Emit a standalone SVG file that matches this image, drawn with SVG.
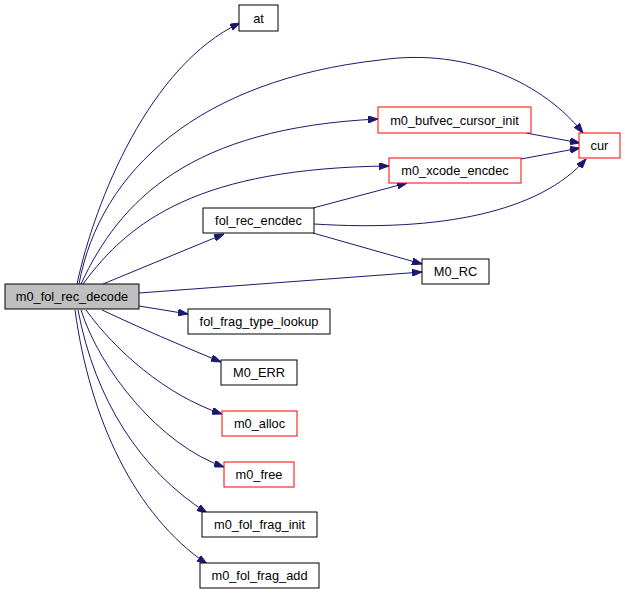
<svg xmlns="http://www.w3.org/2000/svg" width="625" height="595" viewBox="0 0 625 595">
<style>
.n rect{fill:#ffffff;stroke:#000000;stroke-width:1}
.n.r rect{stroke:#ff0000}
.n.m rect{fill:#bfbfbf}
.n text{font-family:"Liberation Sans",Arial,sans-serif;font-size:12.8px;fill:#000000;text-anchor:middle}
.e path{fill:none;stroke:#191970;stroke-width:1;marker-end:url(#ah)}
</style>
<defs>
<marker id="ah" markerUnits="userSpaceOnUse" viewBox="0 0 10 7" refX="10" refY="3.5" markerWidth="10" markerHeight="7" orient="auto">
<path d="M0,0 L10,3.5 L0,7 Z" fill="#191970" stroke="#191970" stroke-width="1"/>
</marker>
</defs>
<rect width="625" height="595" fill="#ffffff"/>
<g id="edges" class="e">
<path d="M77,284 C95,200 150,65 240,23"/>
<path d="M79,284 C100,170 200,80 380,60 C470,47 545,85 583,133"/>
<path d="M81,284 C120,200 190,128 378,119"/>
<path d="M83,284 C130,220 200,168 389,166"/>
<path d="M103,284 L224,234"/>
<path d="M139,293 L422,272"/>
<path d="M139,306 L188,314"/>
<path d="M102,310 C140,328 180,345 221,362"/>
<path d="M86,310 C115,350 165,395 222,414"/>
<path d="M81,310 C100,370 160,445 224,467"/>
<path d="M78,310 C95,400 140,470 207,513"/>
<path d="M75,310 C90,420 135,515 207,564"/>
<path d="M313,208 L407,183"/>
<path d="M314,224 C440,232 540,212 586,159"/>
<path d="M313,233 L422,264"/>
<path d="M526,133 L580,143"/>
<path d="M521,159 L580,148"/>
</g>
<g id="m0_fol_rec_decode" class="n m"><rect x="5" y="284" width="134" height="25"/><text x="72" y="301">m0_fol_rec_decode</text></g>
<g id="at" class="n"><rect x="239" y="5" width="39" height="26"/><text x="258.5" y="22.5">at</text></g>
<g id="m0_bufvec_cursor_init" class="n r"><rect x="378" y="107" width="153" height="26"/><text x="454.5" y="124.5">m0_bufvec_cursor_init</text></g>
<g id="cur" class="n r"><rect x="579" y="133" width="41" height="25"/><text x="599.5" y="150">cur</text></g>
<g id="m0_xcode_encdec" class="n r"><rect x="389" y="158" width="132" height="25"/><text x="455" y="175">m0_xcode_encdec</text></g>
<g id="fol_rec_encdec" class="n"><rect x="203" y="208" width="111" height="25"/><text x="258.5" y="225">fol_rec_encdec</text></g>
<g id="M0_RC" class="n"><rect x="422" y="259" width="67" height="25"/><text x="455.5" y="276">M0_RC</text></g>
<g id="fol_frag_type_lookup" class="n"><rect x="188" y="309" width="142" height="25"/><text x="259" y="326">fol_frag_type_lookup</text></g>
<g id="M0_ERR" class="n"><rect x="221" y="360" width="76" height="25"/><text x="259" y="377">M0_ERR</text></g>
<g id="m0_alloc" class="n r"><rect x="222" y="411" width="75" height="25"/><text x="259.5" y="428">m0_alloc</text></g>
<g id="m0_free" class="n r"><rect x="224" y="462" width="70" height="25"/><text x="259" y="479">m0_free</text></g>
<g id="m0_fol_frag_init" class="n"><rect x="202" y="512" width="115" height="25"/><text x="259.5" y="529">m0_fol_frag_init</text></g>
<g id="m0_fol_frag_add" class="n"><rect x="200" y="563" width="119" height="25"/><text x="259.5" y="580">m0_fol_frag_add</text></g>
</svg>
